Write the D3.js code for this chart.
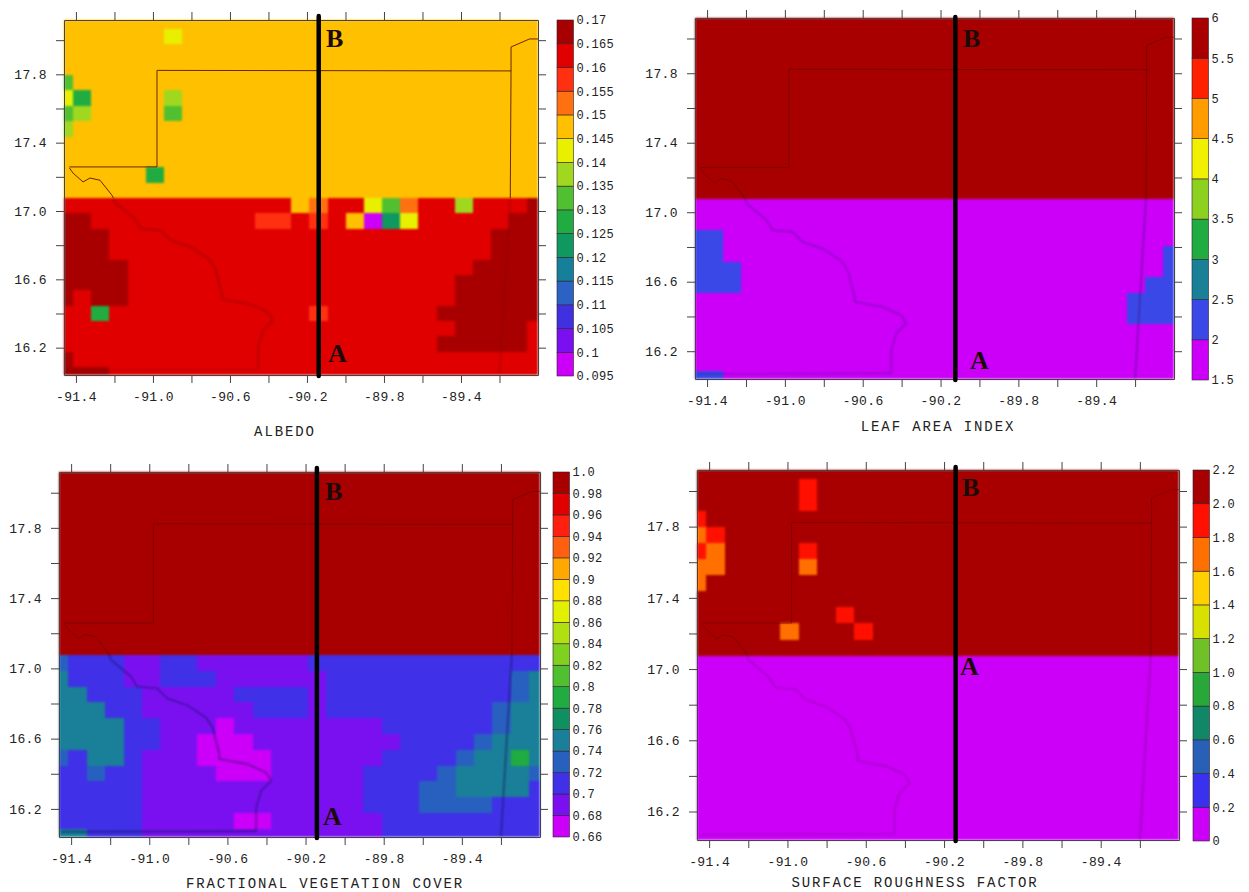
<!DOCTYPE html>
<html>
<head>
<meta charset="utf-8">
<title>Surface fields</title>
<script src="https://cdn.jsdelivr.net/npm/d3@7"></script>
<style>
  html, body { margin: 0; background: #fff; }
  svg { display: block; }
  .axis text, .bar text { fill: #222; font-family: "Liberation Mono", monospace; }
  .axis text { font-size: 13px; letter-spacing: 0.4px; }
  .bar text { font-size: 12px; letter-spacing: 0.3px; }
  .axis line, .axis path { stroke: #444; }
  .title { fill: #222; font-family: "Liberation Mono", monospace; font-size: 14px; letter-spacing: 1.9px; text-anchor: middle; }
  .mark { fill: #1c0a08; font-family: "Liberation Serif", serif; font-size: 26px; font-weight: bold; }
  .soft { filter: blur(0.8px); }
</style>
</head>
<body>
<div id="chart"></div>
<script>
// tick values, same on all four maps
var lonTicks = [-91.4, -91.2, -91.0, -90.8, -90.6, -90.4, -90.2, -90.0, -89.8, -89.6, -89.4, -89.2];
var lonLabels = [-91.4, -91.0, -90.6, -90.2, -89.8, -89.4];
var latTicks = [16.2, 16.4, 16.6, 16.8, 17.0, 17.2, 17.4, 17.6, 17.8, 18.0];
var latLabels = [16.2, 16.6, 17.0, 17.4, 17.8];

// colour bar labels, bottom to top
var albedoLevels = ["0.095", "0.1", "0.105", "0.11", "0.115", "0.12", "0.125", "0.13", "0.135", "0.14", "0.145", "0.15", "0.155", "0.16", "0.165", "0.17"];
var laiLevels = ["1.5", "2", "2.5", "3", "3.5", "4", "4.5", "5", "5.5", "6"];
var fvcLevels = ["0.66", "0.68", "0.7", "0.72", "0.74", "0.76", "0.78", "0.8", "0.82", "0.84", "0.86", "0.88", "0.9", "0.92", "0.94", "0.96", "0.98", "1.0"];
var roughLevels = ["0", "0.2", "0.4", "0.6", "0.8", "1.0", "1.2", "1.4", "1.6", "1.8", "2.0", "2.2"];

// grid rows run north to south, 27 cells each; one base-36 digit = the colour band of the cell
var albedoRows = [
  "aaaaaaaaaaaaaaaaaaaaaaaaaaa",
  "aaaaaa9aaaaaaaaaaaaaaaaaaaa",
  "aaaaaaaaaaaaaaaaaaaaaaaaaaa",
  "aaaaaaaaaaaaaaaaaaaaaaaaaaa",
  "7aaaaaaaaaaaaaaaaaaaaaaaaaa",
  "96aaaa8aaaaaaaaaaaaaaaaaaaa",
  "78aaaa7aaaaaaaaaaaaaaaaaaaa",
  "8aaaaaaaaaaaaaaaaaaaaaaaaaa",
  "aaaaaaaaaaaaaaaaaaaaaaaaaaa",
  "aaaaaaaaaaaaaaaaaaaaaaaaaaa",
  "aaaaa6aaaaaaaaaaaaaaaaaaaaa",
  "aaaaaaaaaaaaaaaaaaaaaaaaaaa",
  "dddddddddddddabdd97bdd8ddde",
  "eedddddddddccdcda059dddddee",
  "eeedddddddddddddddddddddeee",
  "eeedddddddddddddddddddddeee",
  "eeeedddddddddddddddddddeeee",
  "eeeeddddddddddddddddddeeeee",
  "edeeddddddddddddddddddeeeee",
  "dd6dddddddddddcddddddeeeeee",
  "ddddddddddddddddddddddeeeed",
  "dddddddddddddddddddddeeeeed",
  "edddddddddddddddddddddddddd",
  "eeedddddddddddddddddddddddd"
];
var laiRows = [
  "888888888888888888888888888",
  "888888888888888888888888888",
  "888888888888888888888888888",
  "888888888888888888888888888",
  "888888888888888888888888888",
  "888888888888888888888888888",
  "888888888888888888888888888",
  "888888888888888888888888888",
  "888888888888888888888888888",
  "888888888888888888888888888",
  "888888888888888888888888888",
  "888888888888888888888888888",
  "000000000000000000000000000",
  "000000000000000000000000000",
  "110000000000000000000000000",
  "110000000000000000000000001",
  "111000000000000000000000001",
  "111000000000000000000000011",
  "000000000000000000000000111",
  "000000000000000000000000111",
  "000000000000000000000000000",
  "000000000000000000000000000",
  "000000000000000000000000000",
  "110000000000000000000000000"
];
var fvcRows = [
  "ggggggggggggggggggggggggggg",
  "ggggggggggggggggggggggggggg",
  "ggggggggggggggggggggggggggg",
  "ggggggggggggggggggggggggggg",
  "ggggggggggggggggggggggggggg",
  "ggggggggggggggggggggggggggg",
  "ggggggggggggggggggggggggggg",
  "ggggggggggggggggggggggggggg",
  "ggggggggggggggggggggggggggg",
  "ggggggggggggggggggggggggggg",
  "ggggggggggggggggggggggggggg",
  "ggggggggggggggggggggggggggg",
  "322211221111112222222222222",
  "422211222111111222222222234",
  "442221111122221222222222234",
  "444221111112221222222222344",
  "444422111011111111222222344",
  "444422110001111111122223444",
  "324421110000111111222234464",
  "223221111000111112222344443",
  "222221111111111112223344442",
  "222221111111111112223333222",
  "222221111100111111222222222",
  "442221111111111111222222222"
];
var roughRows = [
  "aaaaaaaaaaaaaaaaaaaaaaaaaaa",
  "aaaaaa9aaaaaaaaaaaaaaaaaaaa",
  "aaaaaa9aaaaaaaaaaaaaaaaaaaa",
  "9aaaaaaaaaaaaaaaaaaaaaaaaaa",
  "89aaaaaaaaaaaaaaaaaaaaaaaaa",
  "98aaaa9aaaaaaaaaaaaaaaaaaaa",
  "88aaaa8aaaaaaaaaaaaaaaaaaaa",
  "8aaaaaaaaaaaaaaaaaaaaaaaaaa",
  "aaaaaaaaaaaaaaaaaaaaaaaaaaa",
  "aaaaaaaa9aaaaaaaaaaaaaaaaaa",
  "aaaaa8aaa9aaaaaaaaaaaaaaaaa",
  "aaaaaaaaaaaaaaaaaaaaaaaaaaa",
  "000000000000000000000000000",
  "000000000000000000000000000",
  "000000000000000000000000000",
  "000000000000000000000000000",
  "000000000000000000000000000",
  "000000000000000000000000000",
  "000000000000000000000000000",
  "000000000000000000000000000",
  "000000000000000000000000000",
  "000000000000000000000000000",
  "000000000000000000000000000",
  "000000000000000000000000000"
];

// band colours, bottom to top
var albedoColors = ["#cc00f8", "#7a10f0", "#4030e0", "#2c62c4", "#16809a", "#0f9860", "#20ac40", "#50c030", "#a0d820", "#e8f000", "#ffc000", "#ff7010", "#ff3010", "#e00000", "#a80000"];
var laiColors = ["#cc00f8", "#3a48e8", "#1a8098", "#20ac40", "#8cd020", "#f0f000", "#ff9c00", "#ff2000", "#a80000"];
var fvcColors = ["#cc00f8", "#7a10f0", "#4030e8", "#2860c0", "#1a7f98", "#109060", "#20ac40", "#50c030", "#80d020", "#b0e010", "#e0f000", "#ffe000", "#ffa800", "#ff6010", "#ff2010", "#e00000", "#a80000"];
var roughColors = ["#cc00f8", "#3a30f0", "#2860b8", "#108868", "#28a838", "#70c028", "#d8e000", "#ffd000", "#ff7000", "#ff1000", "#a80000"];

// state borders and river, [lon, lat], split at the band edge because they read differently on each side
var northBorder = [[-91.434, 17.258], [-90.979, 17.258], [-90.979, 17.823], [-89.14, 17.82], [-89.14, 17.96], [-89.044, 18.007], [-89.0, 18.007]];
var eastBorderNorth = [[-89.14, 17.82], [-89.144, 17.076]];
var eastBorderSouth = [[-89.144, 17.076], [-89.2, 16.04]];
var riverNorth = [[-91.434, 17.252], [-91.415, 17.222], [-91.363, 17.17], [-91.327, 17.193], [-91.275, 17.18], [-91.214, 17.094], [-91.205, 17.076]];
var riverSouth = [[-91.205, 17.076], [-91.197, 17.05], [-91.094, 16.954], [-91.062, 16.896], [-90.96, 16.887], [-90.908, 16.829], [-90.805, 16.79], [-90.71, 16.72], [-90.677, 16.666], [-90.641, 16.512], [-90.641, 16.484], [-90.497, 16.455], [-90.402, 16.407], [-90.376, 16.359], [-90.428, 16.303], [-90.453, 16.206], [-90.453, 16.073]];
var southBorder = [[-91.45, 16.07], [-90.453, 16.073]];

// the A-B cross section longitude on each map
var sectionLons = [-90.139, -90.124, -90.142, -90.141];

var lonDomain = [-91.462, -89.0];
var latDomain = [16.04, 18.118];
// grid centres: first cell centred on the west edge, first row just above the top edge
var gridLon0 = -91.462, gridLonStep = 0.0944;
var gridLat0 = 18.111, gridLatStep = 0.09;

var maps = [
  { title: "ALBEDO", levels: albedoLevels, rows: albedoRows, colors: albedoColors, section: sectionLons[0],
    left: 64, right: 538, top: 20, bottom: 375, barX: 557, barTop: 20, barBottom: 376,
    titleX: 285, titleY: 436, markB: [326, 47], markA: [328, 362], y1: 16,
    highLine: "#5a1400", highOpacity: 0.9, lowLine: "#700000", lowOpacity: 0.22, lowWidth: 2.6, riverOpacity: 0.28, riverWidth: 2.4 },
  { title: "LEAF AREA INDEX", levels: laiLevels, rows: laiRows, colors: laiColors, section: sectionLons[1],
    left: 695, right: 1174, top: 18, bottom: 379, barX: 1192, barTop: 18, barBottom: 380,
    titleX: 938, titleY: 431, markB: [963, 47], markA: [970, 369], y1: 17,
    highLine: "#500000", highOpacity: 0.45, lowLine: "#3c0c80", lowOpacity: 0.8, lowWidth: 1, riverOpacity: 0.4, riverWidth: 1.6 },
  { title: "FRACTIONAL VEGETATION COVER", levels: fvcLevels, rows: fvcRows, colors: fvcColors, section: sectionLons[2],
    left: 59, right: 540, top: 472, bottom: 837, barX: 553, barTop: 472, barBottom: 837,
    titleX: 325, titleY: 888, markB: [325, 500], markA: [323, 825], y1: 468,
    highLine: "#500000", highOpacity: 0.45, lowLine: "#14105c", lowOpacity: 0.9, lowWidth: 1, riverOpacity: 0.7, riverWidth: 1.2 },
  { title: "SURFACE ROUGHNESS FACTOR", levels: roughLevels, rows: roughRows, colors: roughColors, section: sectionLons[3],
    left: 697, right: 1179, top: 470, bottom: 840, barX: 1193, barTop: 470, barBottom: 841,
    titleX: 915, titleY: 887, markB: [962, 496], markA: [960, 675], y1: 467,
    highLine: "#500000", highOpacity: 0.4, lowLine: "#5c0868", lowOpacity: 0.6, lowWidth: 1, riverOpacity: 0.3, riverWidth: 1.6 }
];

var svg = d3.select("#chart")
  .append("svg")
    .attr("width", 1249)
    .attr("height", 892);

function drawMap(m) {
  var x = d3.scaleLinear().domain(lonDomain).range([m.left, m.right]).clamp(true);
  var y = d3.scaleLinear().domain(latDomain).range([m.bottom, m.top]).clamp(true);

  var color = d3.scaleThreshold()
    .domain(m.levels.slice(1, -1).map(Number))
    .range(m.colors);

  // turn the band digits into cell values
  var cells = [];
  m.rows.forEach(function (row, r) {
    row.split("").forEach(function (ch, c) {
      var band = parseInt(ch, 36);
      cells.push({
        lon: gridLon0 + c * gridLonStep,
        lat: gridLat0 - r * gridLatStep,
        value: (+m.levels[band] + +m.levels[band + 1]) / 2
      });
    });
  });

  var g = svg.append("g");
  // source picture is a soft scan, take the hard edge off the maps
  var soft = g.append("g").attr("class", "soft");

  soft.append("g")
    .selectAll("rect")
    .data(cells)
    .enter()
    .append("rect")
      .attr("x", function (d) { return x(d.lon - gridLonStep / 2); })
      .attr("y", function (d) { return y(d.lat + gridLatStep / 2); })
      .attr("width", function (d) { return x(d.lon + gridLonStep / 2) - x(d.lon - gridLonStep / 2); })
      .attr("height", function (d) { return y(d.lat - gridLatStep / 2) - y(d.lat + gridLatStep / 2); })
      .attr("shape-rendering", "crispEdges")
      .style("fill", function (d) { return color(d.value); });

  var line = d3.line()
    .x(function (d) { return x(d[0]); })
    .y(function (d) { return y(d[1]); });

  var softSegments = [
    { pts: eastBorderSouth, stroke: m.lowLine, opacity: m.lowOpacity, width: m.lowWidth },
    { pts: riverSouth, stroke: m.lowLine, opacity: m.riverOpacity, width: m.riverWidth },
    { pts: southBorder, stroke: m.lowLine, opacity: m.riverOpacity, width: 1.4 }
  ];
  var sharpSegments = [
    { pts: northBorder, stroke: m.highLine, opacity: m.highOpacity, width: 1 },
    { pts: eastBorderNorth, stroke: m.highLine, opacity: m.highOpacity, width: 1 },
    { pts: riverNorth, stroke: m.highLine, opacity: m.highOpacity, width: 1 }
  ];

  function drawLines(parent, segments) {
    parent.append("g")
      .selectAll("path")
      .data(segments)
      .enter()
      .append("path")
        .attr("d", function (d) { return line(d.pts); })
        .style("fill", "none")
        .style("stroke", function (d) { return d.stroke; })
        .style("stroke-opacity", function (d) { return d.opacity; })
        .style("stroke-width", function (d) { return d.width + "px"; });
  }
  drawLines(soft, softSegments);
  drawLines(g, sharpSegments);

  // ticks on all four sides, labels bottom and left only
  var lonFormat = function (d) { return lonLabels.indexOf(d) >= 0 ? d3.format(".1f")(d).replace("\u2212", "-") : ""; };
  var latFormat = function (d) { return latLabels.indexOf(d) >= 0 ? d3.format(".1f")(d) : ""; };

  g.append("g").attr("class", "axis")
    .attr("transform", "translate(0," + m.bottom + ")")
    .call(d3.axisBottom(x).tickValues(lonTicks).tickFormat(lonFormat).tickSize(8).tickPadding(9).tickSizeOuter(0));
  g.append("g").attr("class", "axis")
    .attr("transform", "translate(0," + m.top + ")")
    .call(d3.axisTop(x).tickValues(lonTicks).tickFormat("").tickSize(8).tickSizeOuter(0));
  g.append("g").attr("class", "axis")
    .attr("transform", "translate(" + m.left + ",0)")
    .call(d3.axisLeft(y).tickValues(latTicks).tickFormat(latFormat).tickSize(8).tickPadding(9).tickSizeOuter(0));
  g.append("g").attr("class", "axis")
    .attr("transform", "translate(" + m.right + ",0)")
    .call(d3.axisRight(y).tickValues(latTicks).tickFormat("").tickSize(8).tickSizeOuter(0));

  // A-B section line
  g.append("line")
    .attr("x1", x(m.section))
    .attr("x2", x(m.section))
    .attr("y1", m.y1)
    .attr("y2", m.bottom + 1)
    .attr("stroke", "#000")
    .attr("stroke-width", 4.5)
    .attr("stroke-linecap", "round");

  g.append("text").attr("class", "mark").attr("x", m.markB[0]).attr("y", m.markB[1]).text("B");
  g.append("text").attr("class", "mark").attr("x", m.markA[0]).attr("y", m.markA[1]).text("A");
  g.append("text").attr("class", "title").attr("x", m.titleX).attr("y", m.titleY).text(m.title);

  // colour bar
  var bands = d3.range(m.colors.length);
  var barY = d3.scaleBand().domain(bands).range([m.barBottom, m.barTop]);
  var labelY = d3.scalePoint().domain(m.levels).range([m.barBottom, m.barTop]);

  var bar = g.append("g").attr("class", "bar");
  bar.selectAll("rect")
    .data(bands)
    .enter()
    .append("rect")
      .attr("x", m.barX)
      .attr("y", function (d) { return barY(d); })
      .attr("width", 16.5)
      .attr("height", barY.bandwidth())
      .style("fill", function (d) { return m.colors[d]; })
      .style("stroke", "#302030")
      .style("stroke-width", 0.6);

  bar.append("g")
    .attr("transform", "translate(" + (m.barX + 16.5) + ",0)")
    .call(d3.axisRight(labelY).tickSize(0).tickPadding(3))
    .call(function (a) { a.select(".domain").remove(); });
}

maps.forEach(drawMap);
</script>
</body>
</html>
